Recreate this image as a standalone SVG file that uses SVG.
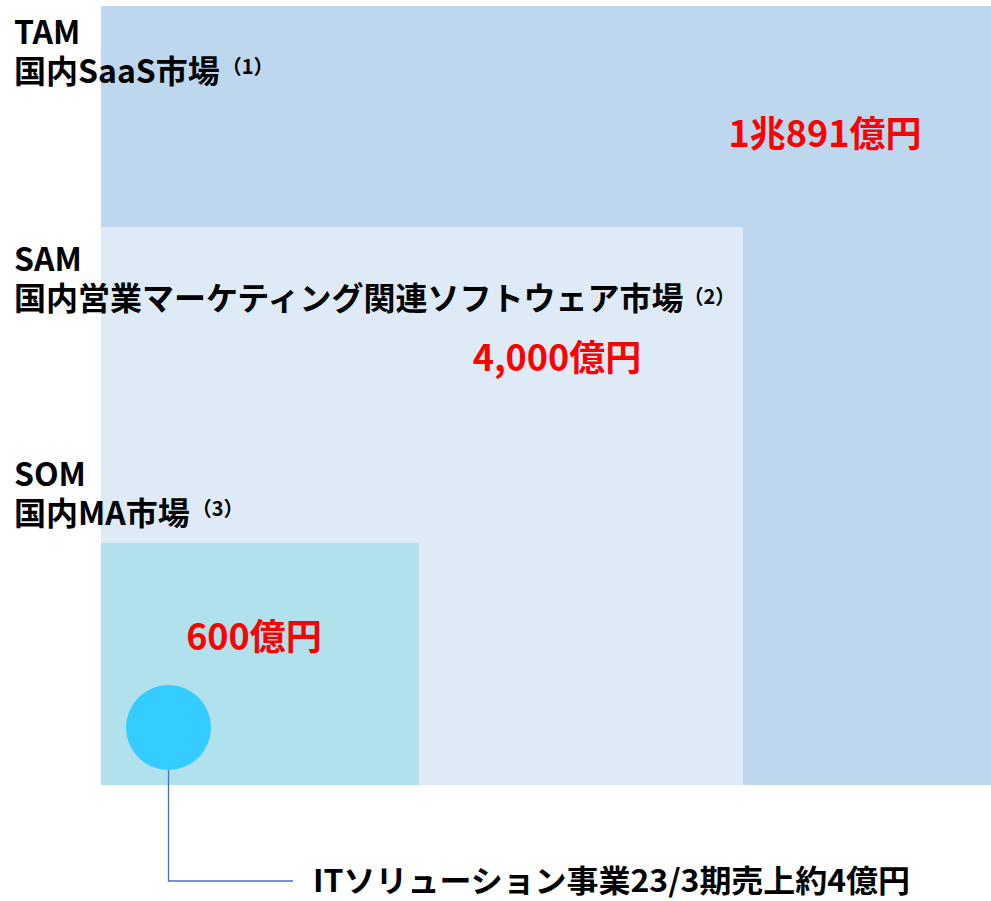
<svg xmlns="http://www.w3.org/2000/svg" width="991" height="901" viewBox="0 0 991 901">
<style>
.lbl{font-family:"Noto Sans CJK JP","Noto Sans",sans-serif;font-weight:bold;font-size:32px;fill:#000}
.sup{font-family:"Noto Sans CJK JP","Noto Sans",sans-serif;font-weight:bold;font-size:20px;fill:#000}
.val{font-family:"Noto Sans CJK JP","Noto Sans",sans-serif;font-weight:bold;font-size:36px;fill:#FF0000}
</style>
<rect width="991" height="901" fill="#FFFFFF"/>
<g id="tam">
<rect x="101" y="6" width="890" height="779" fill="#BDD7EE"/>
<text class="val" x="825" y="147" text-anchor="middle">1兆891億円</text>
</g>
<g id="sam">
<rect x="101" y="227" width="642" height="558" fill="#DEEBF7"/>
<text class="val" x="557" y="371" text-anchor="middle">4,000億円</text>
</g>
<g id="som">
<rect x="101" y="543" width="318" height="242" fill="#B1E1EC"/>
<text class="val" x="254" y="650" text-anchor="middle">600億円</text>
</g>
<g id="tam-label">
<text class="lbl"><tspan x="14" y="44">TAM</tspan><tspan x="14" y="83">国内SaaS市場<tspan class="sup" dx="2" dy="-9">（1）</tspan></tspan></text>
</g>
<g id="sam-label">
<text class="lbl"><tspan x="14" y="271">SAM</tspan><tspan x="14" y="310">国内営業マーケティング関連ソフトウェア市場<tspan class="sup" dy="-6">（2）</tspan></tspan></text>
</g>
<g id="som-label">
<text class="lbl"><tspan x="14" y="486">SOM</tspan><tspan x="14" y="525">国内MA市場<tspan class="sup" dx="2" dy="-9">（3）</tspan></tspan></text>
</g>
<g id="it-solution">
<circle cx="168.5" cy="727.5" r="42.5" fill="#35CCFF"/>
<text class="lbl" x="313" y="892" style="font-size:31px" textLength="597" lengthAdjust="spacingAndGlyphs">ITソリューション事業23/3期売上約4億円</text>
</g>
<g id="connectors">
<polyline points="168.5,770 168.5,881 293,881" fill="none" stroke="#4472C4" stroke-width="1.3"/>
</g>
</svg>
